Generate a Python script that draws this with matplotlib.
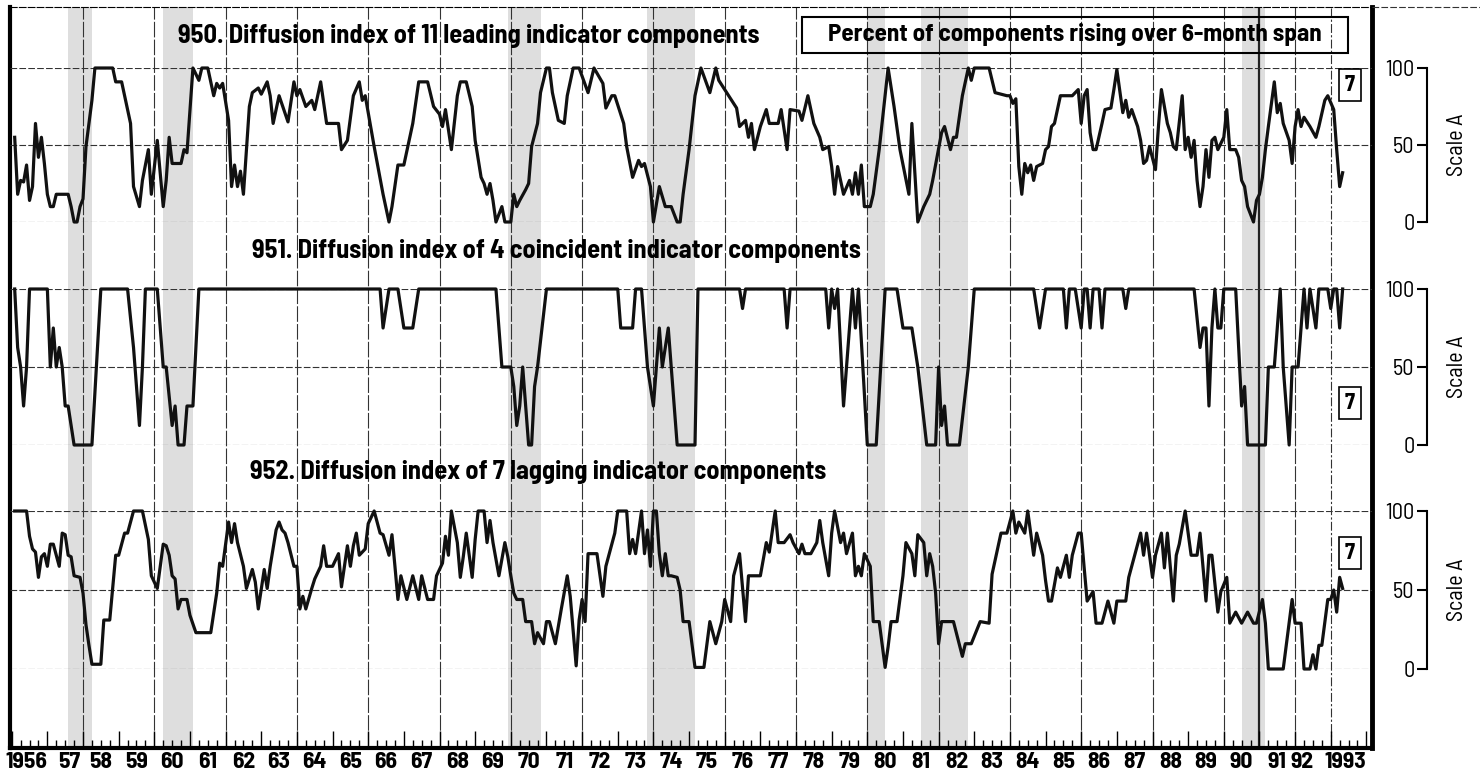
import numpy as np
import matplotlib
matplotlib.use('Agg')
import matplotlib.pyplot as plt
import matplotlib.transforms as mtransforms
from matplotlib.patches import Rectangle
from matplotlib.lines import Line2D

plt.rcParams['font.family'] = ['Barlow Semi Condensed', 'Liberation Sans Narrow', 'DejaVu Sans']

# (month index from Jan 1956, percent rising)
lead_pts = [(1,55),(2,18),(3,27),(4,26),(5,37),(6,14),(7,23),(8,64),(9,42),(10,55),(11,38),(12,18),
    (13,10),(14,10),(15,18),(19,18),(20,10),(21,0),(22,0),(23,10),(24,15),(25,49),(27,79),(28,100),
    (34,100),(35,91),(37,91),(38,82),(40,64),(41,23),(43,10),(44,27),(46,47),(47,18),(49,53),(51,10),
    (52,27),(53,55),(54,38),(57,38),(58,47),(59,45),(61,100),(63,92),(64,100),(66,100),(68,82),(69,90),
    (70,87),(71,90),(73,66),(74,23),(75,37),(76,23),(77,33),(78,18),(80,75),(81,84),(83,87),(84,83),
    (86,91),(87,82),(88,64),(90,82),(93,65),(95,91),(96,82),(97,86),(99,75),(101,79),(102,73),(103,82),
    (104,91),(106,64),(110,64),(111,47),(113,53),(115,82),(117,91),(118,79),(119,82),(122,49),(125,18),
    (127,0),(128,10),(130,37),(132,37),(135,64),(137,91),(140,91),(142,75),(144,70),(145,62),(146,73),
    (148,47),(150,82),(151,91),(153,91),(155,75),(156,53),(158,29),(159,25),(160,18),(161,25),(162,14),
    (163,0),(165,10),(166,0),(168,0),(169,18),(170,10),(171,14),(173,21),(174,25),(175,49),(177,64),
    (178,84),(180,100),(181,100),(182,84),(184,66),(186,64),(187,82),(189,100),(191,100),(194,84),
    (196,100),(199,90),(200,74),(202,82),(203,82),(206,64),(207,49),(209,29),(211,40),(212,36),(213,38),
    (215,23),(216,0),(218,23),(220,10),(222,10),(224,0),(225,0),(226,18),(228,47),(230,82),(232,100),
    (235,84),(237,100),(238,92),(240,86),(244,74),(245,62),(247,66),(248,55),(249,64),(250,47),(252,62),
    (254,73),(255,64),(258,64),(259,73),(261,47),(262,73),(265,72),(266,66),(268,82),(270,64),(272,55),
    (273,47),(275,49),(276,36),(277,18),(278,36),(280,18),(282,27),(283,18),(284,32),(285,18),(286,37),
    (287,10),(289,10),(290,18),(292,47),(294,82),(295,100),(297,75),(299,47),(302,18),(303,64),(305,0),
    (307,10),(309,18),(310,27),(313,58),(314,62),(316,47),(317,55),(318,55),(320,82),(322,100),(323,92),
    (324,100),(329,100),(331,84),(335,82),(336,82),(337,77),(338,80),(339,36),(340,18),(341,38),(342,32),
    (343,37),(344,27),(345,36),(347,38),(348,47),(349,49),(350,62),(351,64),(352,73),(353,82),(357,82),
    (359,86),(360,64),(361,82),(362,86),(363,58),(364,47),(365,47),(367,64),(368,73),(370,74),(371,86),
    (372,99),(374,71),(375,79),(376,68),(377,73),(379,62),(380,53),(381,38),(382,40),(383,49),(385,34),
    (386,62),(387,86),(389,64),(390,58),(391,49),(392,47),(394,82),(395,47),(396,55),(397,42),(398,53),
    (399,27),(400,10),(401,23),(402,47),(403,29),(404,53),(405,55),(406,47),(408,55),(409,73),(410,47),
    (412,47),(413,42),(414,27),(415,23),(416,10),(418,0),(419,14),(420,18),(421,29),(422,47),(423,62),
    (425,91),(426,71),(427,77),(428,64),(430,53),(431,38),(432,62),(433,73),(434,62),(435,68),(437,62),
    (439,55),(440,62),(442,79),(443,82),(445,73),(446,47),(447,23),(448,32)]

coin_pts = [(1,100),(2,62.5),(3,50),(4,25),(5,50),(6,100),(12,100),(13,50),(14,75),(15,50),(16,62.5),
    (17,50),(18,25),(19,25),(21,0),(27,0),(30,100),(39,100),(41,62.5),(43,12.5),(44,50),(45,100),
    (49,100),(51,50),(52,50),(54,12.5),(55,25),(56,0),(58,0),(59,25),(61,25),(63,100),(124,100),
    (125,75),(127,100),(130,100),(132,75),(135,75),(137,100),(163,100),(165,50),(168,50),(169,37.5),
    (170,12.5),(171,25),(172,50),(174,0),(175,0),(176,37.5),(177,50),(180,100),(204,100),(205,75),
    (209,75),(210,100),(212,100),(214,50),(216,25),(217,50),(218,75),(219,50),(221,75),(222,50),
    (224,0),(230,0),(231,100),(245,100),(246,87.5),(247,100),(260,100),(261,75),(262,100),(274,100),
    (275,75),(276,100),(277,87.5),(278,100),(280,25),(282,75),(283,100),(284,75),(285,100),(288,0),
    (291,0),(294,100),(298,100),(300,75),(303,75),(305,50),(308,0),(311,0),(312,50),(313,12.5),
    (314,25),(315,0),(319,0),(322,50),(324,100),(344,100),(346,75),(348,100),(354,100),(355,75),
    (356,100),(358,100),(360,75),(361,100),(362,100),(363,75),(364,100),(366,100),(367,75),(368,100),
    (374,100),(375,87.5),(376,100),(398,100),(400,62.5),(401,75),(402,75),(403,25),(404,75),(405,100),
    (406,75),(407,75),(408,100),(412,100),(414,25),(415,37.5),(416,0),(422,0),(423,50),(425,50),
    (426,75),(427,100),(428,50),(430,0),(431,50),(433,50),(435,100),(436,75),(437,100),(439,75),
    (440,100),(443,100),(444,87.5),(445,100),(446,100),(447,75),(448,100)]

lag_pts = [(1,100),(5,100),(6,84),(7,76),(8,74),(9,58),(10,71),(11,73),(12,65),(13,79),(14,79),(16,65),
    (17,86),(18,85),(19,72),(20,71),(21,59),(23,58),(24,48),(25,28),(26,15),(27,3),(30,3),(31,31),
    (33,31),(35,72),(36,72),(38,86),(39,86),(41,100),(44,100),(46,82),(47,59),(49,51),(50,65),(51,79),
    (52,78),(53,72),(54,59),(55,57),(56,38),(57,44),(59,44),(60,34),(62,23),(67,23),(69,48),(70,67),
    (71,65),(73,93),(74,80),(75,92),(76,80),(78,65),(79,51),(81,63),(82,55),(83,38),(85,63),(86,51),
    (87,65),(89,88),(90,93),(91,88),(92,86),(93,80),(95,65),(96,65),(97,38),(98,46),(99,38),(101,51),
    (102,57),(104,65),(105,78),(106,65),(108,65),(110,73),(111,52),(113,78),(114,65),(115,78),(116,86),
    (117,72),(119,76),(120,92),(122,100),(124,86),(125,85),(127,72),(128,85),(129,65),(130,44),(131,59),
    (133,44),(135,59),(137,44),(138,59),(140,44),(142,44),(143,59),(145,67),(146,84),(147,72),(148,100),
    (150,80),(151,58),(152,71),(153,86),(155,58),(156,82),(157,100),(159,100),(160,80),(161,94),(162,80),
    (164,59),(166,80),(167,71),(168,59),(169,48),(170,44),(172,44),(173,30),(175,30),(176,16),(177,23),
    (179,16),(180,30),(181,30),(183,16),(185,38),(187,59),(188,46),(190,2),(191,31),(192,44),(193,30),
    (194,73),(197,73),(199,46),(200,65),(203,86),(204,100),(207,100),(208,73),(209,82),(210,73),(212,100),
    (213,73),(214,88),(215,65),(216,100),(217,100),(218,73),(219,59),(220,73),(221,59),(222,59),(224,58),
    (225,50),(226,30),(228,30),(230,1),(233,1),(235,30),(237,16),(239,30),(240,44),(242,30),(243,59),
    (245,73),(247,30),(248,59),(252,59),(254,80),(255,74),(257,100),(258,80),(260,80),(262,85),(263,80),
    (265,73),(266,79),(267,73),(269,73),(271,80),(272,94),(273,80),(275,59),(276,86),(277,100),(279,80),
    (280,86),(281,73),(283,86),(284,59),(285,65),(286,59),(287,73),(289,65),(290,30),(292,30),(294,1),
    (295,14),(296,30),(298,30),(300,59),(301,80),(303,73),(304,59),(305,85),(307,80),(308,59),(309,73),
    (310,65),(311,48),(312,16),(313,30),(317,30),(320,8),(321,16),(323,16),(326,30),(329,29),(330,60),
    (333,86),(335,86),(337,100),(338,86),(339,93),(341,86),(342,100),(343,86),(344,72),(345,86),(347,72),
    (348,56),(349,43),(350,43),(352,64),(353,58),(355,72),(356,58),(357,72),(359,86),(360,86),(361,64),
    (362,43),(364,49),(365,29),(367,29),(369,43),(371,29),(372,43),(375,43),(376,58),(378,72),(380,86),
    (381,72),(382,86),(384,58),(385,72),(387,86),(388,64),(389,86),(391,43),(392,72),(393,79),(395,100),
    (397,72),(399,72),(400,86),(402,43),(403,72),(404,72),(406,36),(407,49),(409,58),(410,29),(412,36),
    (414,29),(416,36),(418,29),(419,29),(421,44),(422,29),(423,0),(428,0),(430,29),(431,44),(432,29),
    (434,29),(435,0),(437,0),(438,9),(439,0),(440,15),(441,15),(443,44),(444,44),(445,50),(446,36),
    (447,58),(448,51)]

# recessions, month index from Jan 1956 (peak, trough)
recessions = [(19, 27), (51, 61), (167, 178), (214, 230), (288, 294), (306, 322), (414, 422)]

titles = ['950. Diffusion index of 11 leading indicator components',
          '951. Diffusion index of 4 coincident indicator components',
          '952. Diffusion index of 7 lagging indicator components']
box_text = 'Percent of components rising over 6-month span'
years = list(range(1956, 1994))
year_labels = ['1956'] + ['%02d' % (y % 100) for y in range(1957, 1993)] + ['1993']

W, H = 1480, 776
fig = plt.figure(figsize=(W / 100, H / 100), dpi=100)
fig.patch.set_facecolor('white')
X0, X1 = 1955.952, 1994.157
def mdate(m):
    return 1956 + np.asarray(m) / 12.0

# frame: shading, vertical grid, ticks
frame = fig.add_axes([10 / W, 1 - 748 / H, 1362 / W, 741 / H])
frame.set_xlim(X0, X1)
frame.set_ylim(0, 1)
for a, b in recessions:
    frame.axvspan(mdate(a), mdate(b), color='#dedede', lw=0, zorder=0)
for yr in range(1958, 1993, 2):
    frame.axvline(yr, color='#333333', lw=0.8, ls=(0, (14, 2)), zorder=1)
frame.axvline(1991, color='#222222', lw=1.6, zorder=1)
frame.axvline(1993, color='#333333', lw=0.8, ls=(0, (8, 2, 2, 2)), zorder=1)
for s in ['left', 'bottom']:
    frame.spines[s].set_linewidth(3)
frame.spines['right'].set_linewidth(3.5)
frame.spines['top'].set_linewidth(0.8)
frame.spines['top'].set_linestyle((0, (6, 2)))
frame.set_yticks([])
frame.set_xticks(range(1956, 1995))
frame.set_xticks(np.arange(1956, 1994.01, 0.25), minor=True)
frame.tick_params(axis='x', which='major', direction='in', length=12, width=1, labelbottom=False)
frame.tick_params(axis='x', which='minor', direction='in', length=6, width=1)
fig.add_artist(Line2D([1372 / W, 1], [1 - 7 / H, 1 - 7 / H], color='#333333', lw=0.8, ls=(0, (6, 2))))

trans = mtransforms.blended_transform_factory(frame.transData, frame.transAxes)
label_x = [y + 0.5 for y in years]
label_x[0] = 1956.42
label_x[1] = 1957.6
label_x[-2] = 1992.2
label_x[-1] = 1993.4
for x, lab in zip(label_x, year_labels):
    frame.text(x, -14 / 741, lab, transform=trans, ha='center', va='center',
               fontsize=17, fontweight='bold')

# panels: zero line px, 100 line px, data, title pos, "7" box y
panels = [(222, 68, lead_pts, 178, 36, 85),
          (445, 289, coin_pts, 252, 251, 403),
          (669, 511, lag_pts, 250, 472, 553)]
for (y0, y100, pts, tx, ty, by), title in zip(panels, titles):
    ax = fig.add_axes([10 / W, 1 - y0 / H, 1362 / W, (y0 - y100) / H])
    ax.patch.set_alpha(0)
    ax.set_xlim(X0, X1)
    ax.set_ylim(0, 100)
    for lvl in (0, 50, 100):
        ax.axhline(lvl, color='#333333', lw=0.8, ls=(0, (6, 2)), zorder=1)
    m, v = zip(*pts)
    ax.plot(mdate(m), v, color='#111111', lw=2.3, clip_on=False, zorder=3)
    for s in ['top', 'right', 'bottom']:
        ax.spines[s].set_visible(False)
    ax.spines['left'].set_position(('axes', (1427 - 10) / 1362))
    ax.spines['left'].set_bounds(0, 100)
    ax.spines['left'].set_linewidth(1.5)
    ax.set_xticks([])
    ax.set_yticks([0, 50, 100])
    ax.set_yticklabels(['0', '50', '100'])
    ax.tick_params(axis='y', direction='out', length=7, width=1.5, labelsize=16, pad=2)
    st = mtransforms.blended_transform_factory(ax.transAxes, ax.transData)
    ax.text((1457 - 10) / 1362, 50, 'Scale A', rotation=90, ha='center', va='center',
            transform=st, fontsize=16)
    fig.text(tx / W, 1 - ty / H, title, fontsize=19, fontweight='bold', ha='left', va='center')
    fig.text(1350 / W, 1 - by / H, '7', fontsize=16, fontweight='bold', ha='center', va='center',
             bbox=dict(boxstyle='square,pad=0.25', fc='white', ec='black', lw=1.2))

fig.add_artist(Rectangle((802 / W, 1 - 53 / H), 546 / W, 36 / H, transform=fig.transFigure,
                         fill=False, ec='black', lw=1.5))
fig.text(1075 / W, 1 - 35 / H, box_text, fontsize=18, fontweight='bold', ha='center', va='center')

fig.savefig('out.png', dpi=100)
